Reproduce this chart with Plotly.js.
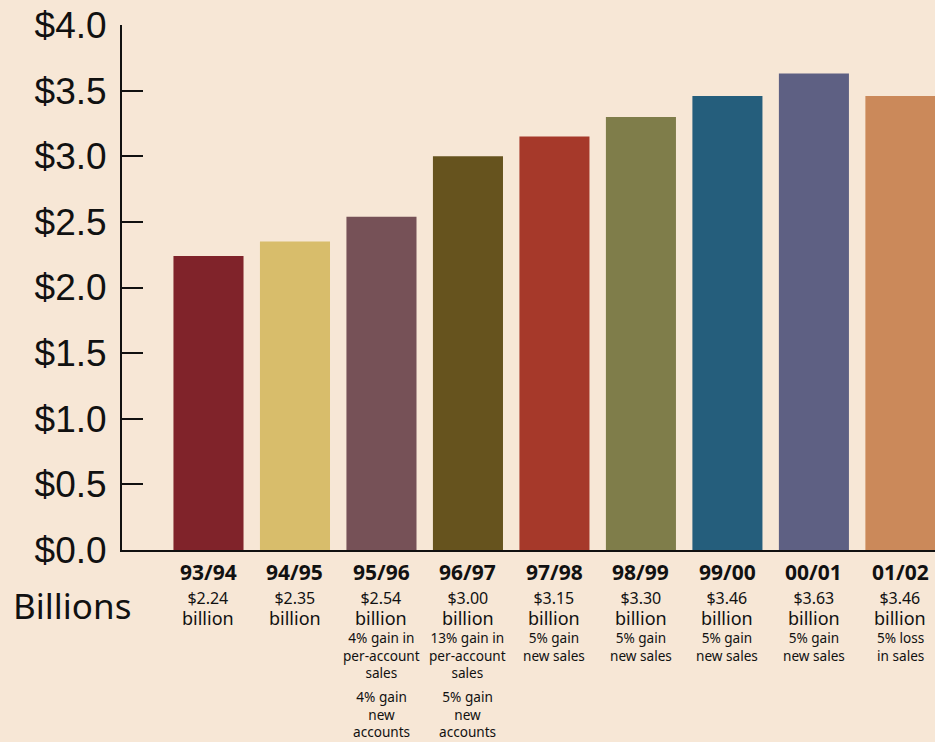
<!DOCTYPE html>
<html>
<head>
<meta charset="utf-8">
<script src="https://cdn.plot.ly/plotly-3.0.1.min.js"></script>
<style>html,body{margin:0;padding:0;background:#f7e7d6;}#chart{width:935px;height:742px;}</style>
</head>
<body>
<div id="chart"></div>
<script>
const categories = ['93/94', '94/95', '95/96', '96/97', '97/98', '98/99', '99/00', '00/01', '01/02'];
const values = [2.24, 2.35, 2.54, 3.00, 3.15, 3.30, 3.46, 3.63, 3.46];
const barColors = ['#80232a', '#d8bd6b', '#765157', '#66531e', '#a6392a', '#7f7d4a', '#255e7c', '#5e6083', '#cb895a'];
const notesA = ['', '', '4% gain in|per-account|sales', '13% gain in|per-account|sales', '5% gain|new sales', '5% gain|new sales', '5% gain|new sales', '5% gain|new sales', '5% loss|in sales'];
const notesB = ['', '', '4% gain|new|accounts', '5% gain|new|accounts', '', '', '', '', ''];
const yTickVals = [0, 0.5, 1, 1.5, 2, 2.5, 3, 3.5, 4];
const yTickText = ['$0.0', '$0.5', '$1.0', '$1.5', '$2.0', '$2.5', '$3.0', '$3.5', '$4.0'];
const unitLabel = 'Billions';

const sans = 'Noto Sans, Open Sans, sans-serif';
const tickFamily = 'Liberation Sans, Arial, Helvetica, sans-serif';

const annotations = [];
function addBlock(xi, html, topPx, size) {
  annotations.push({
    x: xi, xref: 'x', y: 0, yref: 'paper', yanchor: 'top', xanchor: 'center', borderpad: 0,
    yshift: -(topPx - 550), text: html, showarrow: false,
    font: {family: sans, size: size, color: '#111'}
  });
}
categories.forEach((c, i) => {
  addBlock(i, '<b>' + c + '</b>', 557, 21);
  addBlock(i, '$' + values[i].toFixed(2) + "<br><span style='font-size:18px'>billion</span>", 585.5, 16);
  if (notesA[i]) addBlock(i, notesA[i].split('|').join('<br>'), 627, 13.6);
  if (notesB[i]) addBlock(i, notesB[i].split('|').join('<br>'), 686, 13.6);
});
annotations.push({
  x: 0, xref: 'paper', xanchor: 'left', xshift: -111, y: 0, yref: 'paper', yanchor: 'middle', yshift: -55,
  text: unitLabel, showarrow: false, font: {family: sans, size: 35, color: '#111'}
});

const trace = {
  type: 'bar', x: categories.map((c, i) => i), y: values,
  marker: {color: barColors}, hoverinfo: 'skip'
};

const layout = {
  width: 935, height: 742,
  margin: {l: 122, r: 0, t: 25, b: 192},
  paper_bgcolor: '#f7e7d6', plot_bgcolor: '#f7e7d6',
  bargap: 0.19, showlegend: false,
  xaxis: {
    range: [-1, 8.4], showticklabels: false, ticks: '', showgrid: false, zeroline: false,
    showline: true, linecolor: '#111', linewidth: 2, layer: 'below traces', fixedrange: true
  },
  yaxis: {
    range: [0, 4], tickvals: yTickVals, ticktext: yTickText, ticks: 'inside', ticklen: 21, tickwidth: 2,
    tickcolor: '#111', showgrid: false, zeroline: false, showline: true, linecolor: '#111', linewidth: 2,
    tickfont: {family: tickFamily, size: 37, color: '#111'}, ticklabelstandoff: 6, fixedrange: true
  },
  annotations: annotations
};

Plotly.newPlot('chart', [trace], layout, {displayModeBar: false, staticPlot: true});
</script>
</body>
</html>
